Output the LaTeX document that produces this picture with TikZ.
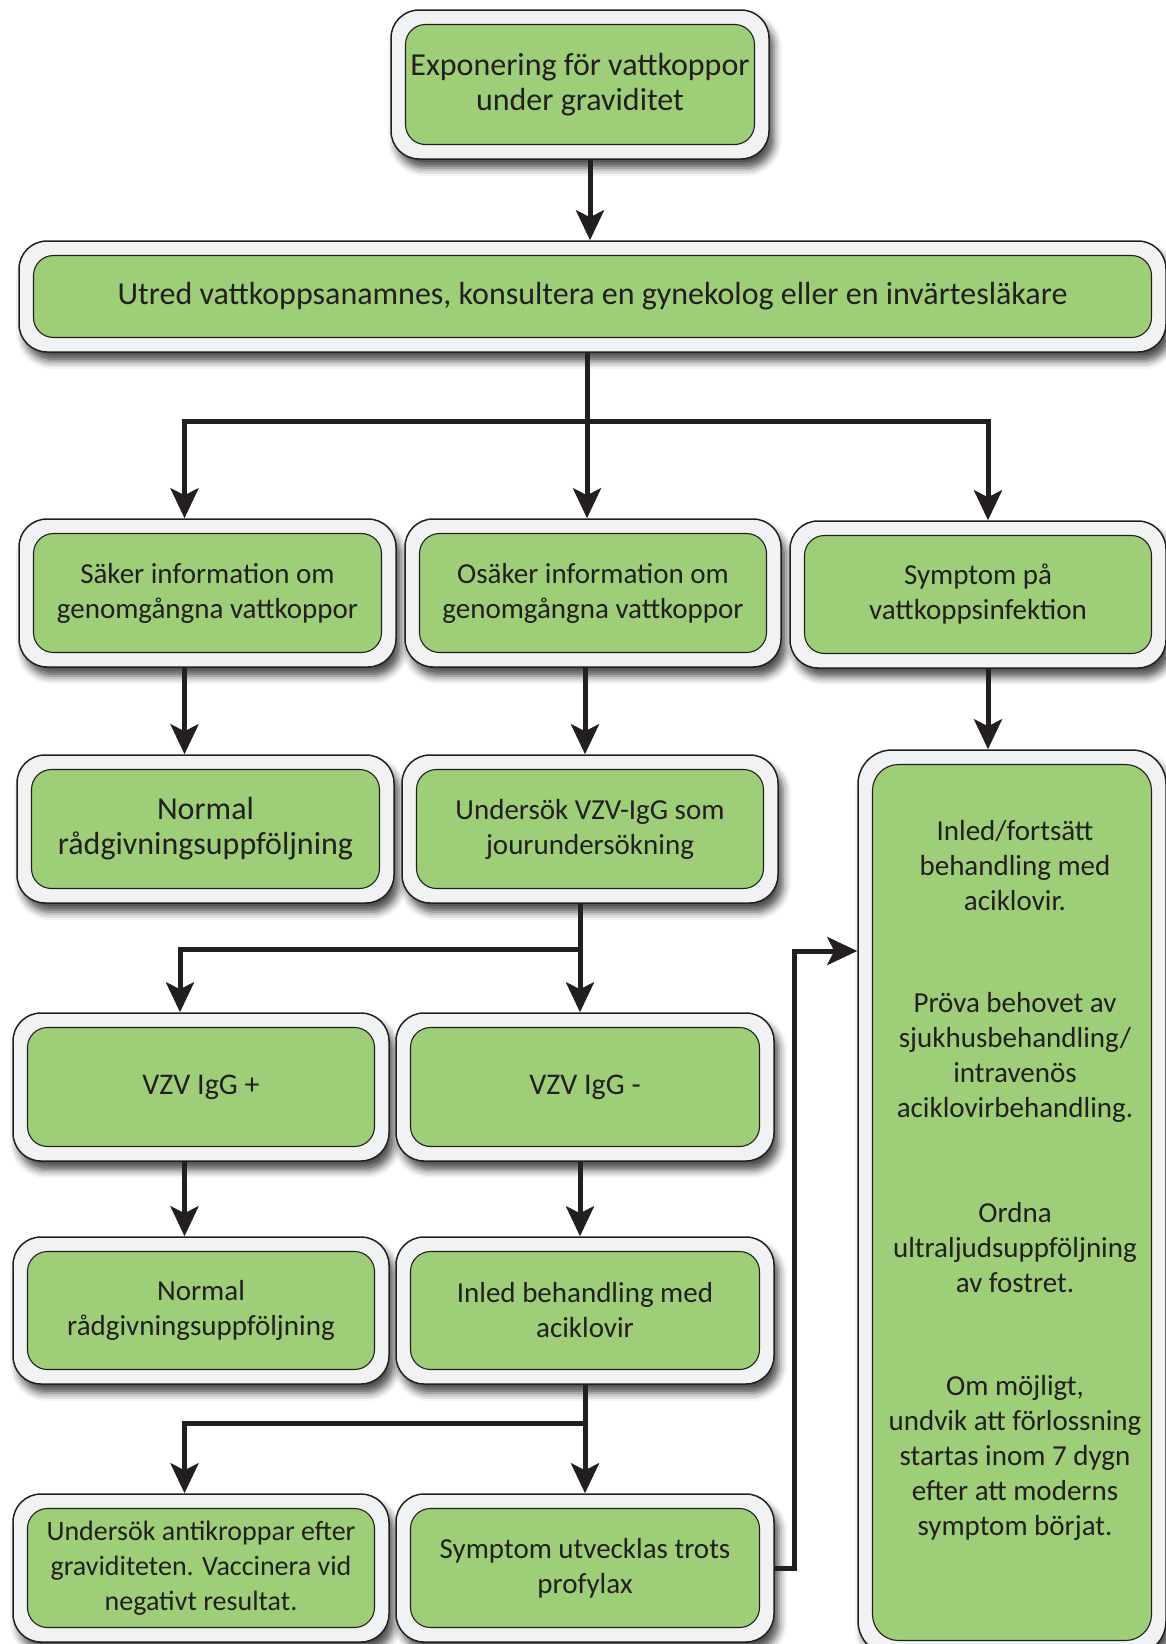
\documentclass[tikz,border=0pt]{standalone}
\usepackage{fontspec}
\setmainfont{Carlito}
\usetikzlibrary{arrows.meta,shadows.blur}
\definecolor{boxgreen}{RGB}{158,206,120}
\definecolor{boxgray}{RGB}{241,242,244}
\definecolor{ink}{RGB}{35,31,32}
\tikzset{
  outerbox/.style={draw=ink, line width=1.5pt, fill=boxgray, rounded corners=28pt,
    blur shadow={shadow xshift=5pt, shadow yshift=-9pt, shadow blur radius=8pt, shadow opacity=70}},
  innerbox/.style={draw=ink, line width=1.1pt, fill=boxgreen, rounded corners=20pt,
    align=center, text=ink, font=\fontsize{29}{35}\selectfont},
  talltext/.style={align=center, text=ink, font=\fontsize{29}{35}\selectfont},
  conn/.style={draw=ink, line width=5pt},
  arr/.style={conn, -{Stealth[length=30pt,width=28pt,inset=7pt]}},
}
\newcommand\gbox[6]{%
  \node[outerbox, minimum width=#4pt, minimum height=#5pt] (#1) at (#2,#3) {};
  \node[innerbox, minimum width=#4pt-29pt, minimum height=#5pt-29pt] (#1in) at (#2,#3) {#6};
}
\newcommand\bigtxt{\fontsize{32}{35}\selectfont}
\newcommand\smalltxt{\fontsize{28}{35}\selectfont}
\begin{document}
\begin{tikzpicture}[x=1pt,y=-1pt]
\useasboundingbox (0,0) rectangle (1166,1644);
% boxes
\gbox{b1}{580}{84.5}{378}{149}{\bigtxt Exponering för vattkoppor\\\bigtxt under graviditet}
\gbox{b2}{592.5}{296.5}{1147}{111}{\bigtxt Utred vattkoppsanamnes, konsultera en gynekolog eller en invärtesläkare}
\gbox{l3}{207.5}{593}{377}{148}{Säker information om\\genomgångna vattkoppor}
\gbox{m3}{593}{593}{376}{148}{Osäker information om\\genomgångna vattkoppor}
\gbox{r3}{978}{594.5}{376}{147}{Symptom på\\vattkoppsinfektion}
\gbox{l4}{205.5}{829}{377}{148}{\bigtxt Normal\\\bigtxt rådgivningsuppföljning}
\gbox{m4}{590}{829}{376}{148}{Undersök VZV-IgG som\\jourundersökning}
\gbox{l5}{201}{1087}{376}{148}{\fontsize{30}{35}\selectfont VZV IgG +}
\gbox{m5}{585}{1087}{378}{148}{\fontsize{30}{35}\selectfont VZV IgG -}
\gbox{l6}{201}{1310.5}{376}{147}{Normal\\rådgivningsuppföljning}
\gbox{m6}{585}{1310.5}{378}{147}{Inled behandling med\\aciklovir}
\gbox{l7}{201}{1568}{376}{148}{\smalltxt Undersök antikroppar efter\\\smalltxt graviditeten. Vaccinera vid\\\smalltxt negativt resultat.}
\gbox{m7}{585}{1568}{378}{148}{Symptom utvecklas trots\\profylax}
% tall box
\node[outerbox, rounded corners=34pt, minimum width=308pt, minimum height=905pt] (tall) at (1012,1202.5) {};
\node[innerbox, rounded corners=26pt, minimum width=279pt, minimum height=876pt] (tallin) at (1012,1202.5) {};
\node[talltext] (t1) at (1015,866) {Inled/fortsätt\\behandling med\\aciklovir.};
\node[talltext] (t2) at (1015,1057) {Pröva behovet av\\sjukhusbehandling/\\intravenös\\aciklovirbehandling.};
\node[talltext] (t3) at (1015,1248) {Ordna\\ultraljudsuppföljning\\av fostret.};
\node[talltext] (t4) at (1015,1458) {Om möjligt,\\undvik att förlossning\\startas inom 7 dygn\\efter att moderns\\symptom börjat.};
% junctions
\coordinate (j1) at (587,421.5);
\coordinate (j2) at (580,949);
\coordinate (j3) at (585,1423);
\coordinate (fb1) at (794,1568);
\coordinate (fb2) at (794,951);
% connectors
\draw[arr] (b1.south -| 590,0) -- (b2.north -| 590,0);
\draw[conn] (b2.south -| j1) -- (j1);
\draw[conn, line cap=rect] (184.5,421.5) -- (988,421.5);
\draw[arr] (184.5,421.5) -- (l3.north -| 184.5,0);
\draw[arr] (j1) -- (m3.north -| j1);
\draw[arr] (988,421.5) -- (r3.north -| 988,0);
\draw[arr] (l3.south -| 184.5,0) -- (l4.north -| 184.5,0);
\draw[arr] (m3.south -| 585,0) -- (m4.north -| 585,0);
\draw[arr] (r3.south -| 988,0) -- (tall.north -| 988,0);
\draw[conn] (m4.south -| j2) -- (j2);
\draw[conn, line cap=rect] (180,949) -- (j2);
\draw[arr] (180,949) -- (l5.north -| 180,0);
\draw[arr] (j2) -- (m5.north -| j2);
\draw[arr] (l5.south -| 184.5,0) -- (l6.north -| 184.5,0);
\draw[arr] (m5.south -| 580,0) -- (m6.north -| 580,0);
\draw[conn] (m6.south -| j3) -- (j3);
\draw[conn, line cap=rect] (184.5,1423) -- (j3);
\draw[arr] (184.5,1423) -- (l7.north -| 184.5,0);
\draw[arr] (j3) -- (m7.north -| j3);
\draw[arr, rounded corners=0pt] (m7.east) -- (fb1) -- (fb2) -- (tall.west |- fb2);
\end{tikzpicture}
\end{document}
